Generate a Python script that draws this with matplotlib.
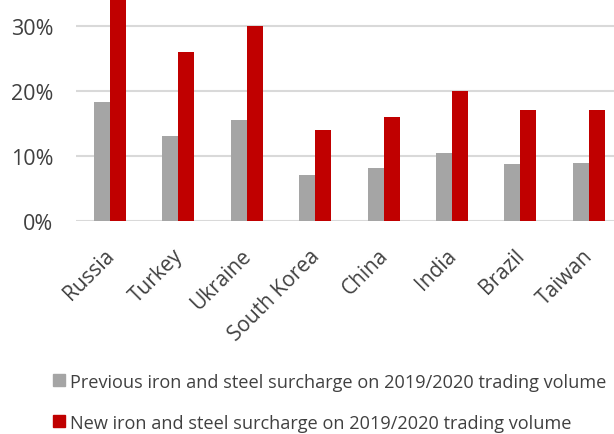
import numpy as np
import matplotlib.pyplot as plt
import matplotlib.transforms as mtransforms
from matplotlib.patches import Patch

plt.rcParams['font.family'] = ['Open Sans', 'DejaVu Sans']

countries = ['Russia', 'Turkey', 'Ukraine', 'South Korea', 'China', 'India', 'Brazil', 'Taiwan']
previous = [18.3, 13.1, 15.5, 7.1, 8.1, 10.5, 8.8, 8.9]
new = [35.0, 26.0, 30.0, 14.0, 16.0, 20.0, 17.0, 17.0]
yticks = [0, 10, 20, 30]
ytick_labels = ['0%', '10%', '20%', '30%']
legend_labels = ['Previous iron and steel surcharge on 2019/2020 trading volume',
                 'New iron and steel surcharge on 2019/2020 trading volume']

grey = '#A5A5A5'
red = '#C00000'
text_col = '#404040'

fig = plt.figure(figsize=(6.14, 4.35), dpi=100)
ax = fig.add_axes([0.1235, 0.4897, 0.891, 0.5103])

x = np.arange(len(countries))
w = 0.234
ax.bar(x - w / 2, previous, width=w, color=grey, zorder=3)
ax.bar(x + w / 2, new, width=w, color=red, zorder=3)

ax.set_xlim(-0.5, len(countries) - 0.5)
ax.set_ylim(0, 34.15)
ax.set_yticks(yticks)
ax.set_yticklabels(ytick_labels)
ax.yaxis.grid(True, color='#D9D9D9', linewidth=1.5, zorder=0)
ax.set_axisbelow(True)
for s in ax.spines.values():
    s.set_visible(False)
ax.tick_params(axis='y', length=0, pad=16, labelsize=15.5, labelcolor=text_col)
ax.tick_params(axis='x', length=0, pad=10, labelsize=15, labelcolor=text_col)
ax.set_xticks(x)
ax.set_xticklabels(countries, rotation=45, ha='right', va='top', rotation_mode='anchor')
offset = mtransforms.ScaledTranslation(-6 / 100, -10 / 100, fig.dpi_scale_trans)
for lab in ax.get_xticklabels():
    lab.set_transform(lab.get_transform() + offset)

handles = [Patch(color=grey), Patch(color=red)]
fig.legend(handles, legend_labels, loc='upper left', bbox_to_anchor=(0.0863, 0.141),
           frameon=False, fontsize=13.05, handlelength=0.66, handleheight=0.66,
           handletextpad=0.27, labelspacing=1.27, labelcolor=text_col,
           borderaxespad=0, borderpad=0)

fig.savefig('out.png', dpi=100)
